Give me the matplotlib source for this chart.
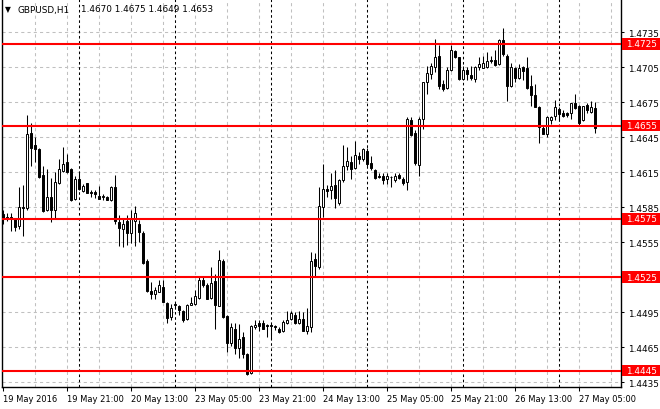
import matplotlib
matplotlib.use("Agg")
import matplotlib.pyplot as plt
from matplotlib.patches import Rectangle
import matplotlib.transforms as mtransforms

# hourly GBPUSD candles, 19 May 2016 05:00 .. 27 May 2016 09:00
opens = [1.4579, 1.4577, 1.4577, 1.4575, 1.4569, 1.4585, 1.4584, 1.4649, 1.4638, 1.4635,
         1.4613, 1.4583, 1.4594, 1.4583, 1.4606, 1.4616, 1.4624, 1.4618, 1.4592, 1.4609,
         1.4599, 1.4606, 1.4598, 1.4598, 1.4595, 1.4594, 1.4594, 1.4591, 1.4602, 1.4572,
         1.4566, 1.4573, 1.4563, 1.4573, 1.4571, 1.4563, 1.4539, 1.4513, 1.4511, 1.4512,
         1.4517, 1.4503, 1.4491, 1.4501, 1.4500, 1.4496, 1.4489, 1.4501, 1.4502, 1.4507,
         1.4523, 1.4518, 1.4507, 1.4522, 1.4500, 1.4539, 1.4492, 1.4469, 1.4481, 1.4464,
         1.4474, 1.4459, 1.4443, 1.4482, 1.4486, 1.4486, 1.4484, 1.4484, 1.4483, 1.4481,
         1.4479, 1.4486, 1.4489, 1.4493, 1.4486, 1.4489, 1.4479, 1.4482, 1.4541, 1.4534,
         1.4585, 1.4601, 1.4600, 1.4604, 1.4589, 1.4608, 1.4620, 1.4624, 1.4619, 1.4629,
         1.4626, 1.4633, 1.4623, 1.4617, 1.4612, 1.4612, 1.4609, 1.4611, 1.4608, 1.4613,
         1.4609, 1.4607, 1.4660, 1.4649, 1.4621, 1.4661, 1.4692, 1.4699, 1.4705, 1.4715,
         1.4691, 1.4687, 1.4703, 1.4719, 1.4714, 1.4695, 1.4703, 1.4698, 1.4695, 1.4705,
         1.4704, 1.4705, 1.4711, 1.4711, 1.4708, 1.4728, 1.4715, 1.4689, 1.4704, 1.4696,
         1.4705, 1.4704, 1.4689, 1.4681, 1.4671, 1.4653, 1.4648, 1.4660, 1.4663, 1.4669,
         1.4666, 1.4666, 1.4666, 1.4674, 1.4672, 1.4660, 1.4673, 1.4667, 1.4670]
highs = [1.4583, 1.4580, 1.4580, 1.4576, 1.4602, 1.4604, 1.4664, 1.4657, 1.4645, 1.4636,
         1.4620, 1.4618, 1.4610, 1.4615, 1.4626, 1.4637, 1.4631, 1.4619, 1.4612, 1.4614,
         1.4605, 1.4606, 1.4600, 1.4600, 1.4603, 1.4596, 1.4595, 1.4603, 1.4613, 1.4578,
         1.4576, 1.4578, 1.4583, 1.4586, 1.4574, 1.4565, 1.4541, 1.4521, 1.4517, 1.4523,
         1.4523, 1.4504, 1.4502, 1.4503, 1.4501, 1.4497, 1.4502, 1.4508, 1.4514, 1.4525,
         1.4525, 1.4520, 1.4534, 1.4528, 1.4548, 1.4541, 1.4493, 1.4486, 1.4486, 1.4485,
         1.4478, 1.4460, 1.4484, 1.4488, 1.4488, 1.4488, 1.4485, 1.4484, 1.4484, 1.4482,
         1.4488, 1.4496, 1.4496, 1.4495, 1.4496, 1.4495, 1.4499, 1.4547, 1.4546, 1.4602,
         1.4622, 1.4604, 1.4614, 1.4617, 1.4609, 1.4638, 1.4637, 1.4629, 1.4642, 1.4632,
         1.4636, 1.4636, 1.4629, 1.4618, 1.4614, 1.4614, 1.4614, 1.4612, 1.4614, 1.4614,
         1.4611, 1.4662, 1.4662, 1.4651, 1.4662, 1.4692, 1.4706, 1.4709, 1.4729, 1.4724,
         1.4694, 1.4705, 1.4724, 1.4720, 1.4714, 1.4706, 1.4705, 1.4706, 1.4706, 1.4714,
         1.4715, 1.4718, 1.4715, 1.4720, 1.4729, 1.4739, 1.4716, 1.4709, 1.4705, 1.4708,
         1.4706, 1.4714, 1.4698, 1.4691, 1.4672, 1.4655, 1.4663, 1.4663, 1.4677, 1.4671,
         1.4668, 1.4667, 1.4674, 1.4682, 1.4673, 1.4672, 1.4674, 1.4676, 1.4675]
lows = [1.4571, 1.4573, 1.4565, 1.4565, 1.4566, 1.4560, 1.4583, 1.4620, 1.4624, 1.4610,
        1.4581, 1.4582, 1.4572, 1.4575, 1.4605, 1.4615, 1.4614, 1.4590, 1.4591, 1.4600,
        1.4598, 1.4597, 1.4594, 1.4593, 1.4592, 1.4591, 1.4591, 1.4590, 1.4571, 1.4552,
        1.4551, 1.4553, 1.4554, 1.4552, 1.4555, 1.4536, 1.4512, 1.4506, 1.4506, 1.4512,
        1.4504, 1.4486, 1.4488, 1.4498, 1.4493, 1.4487, 1.4488, 1.4501, 1.4501, 1.4506,
        1.4517, 1.4506, 1.4506, 1.4481, 1.4500, 1.4490, 1.4461, 1.4466, 1.4459, 1.4456,
        1.4456, 1.4441, 1.4442, 1.4481, 1.4479, 1.4481, 1.4474, 1.4472, 1.4480, 1.4477,
        1.4478, 1.4485, 1.4488, 1.4485, 1.4485, 1.4479, 1.4476, 1.4478, 1.4526, 1.4532,
        1.4577, 1.4594, 1.4592, 1.4584, 1.4587, 1.4607, 1.4617, 1.4609, 1.4618, 1.4622,
        1.4625, 1.4620, 1.4617, 1.4609, 1.4610, 1.4605, 1.4605, 1.4602, 1.4607, 1.4609,
        1.4604, 1.4600, 1.4646, 1.4621, 1.4612, 1.4652, 1.4682, 1.4695, 1.4701, 1.4686,
        1.4685, 1.4686, 1.4702, 1.4713, 1.4694, 1.4694, 1.4694, 1.4694, 1.4692, 1.4703,
        1.4704, 1.4704, 1.4709, 1.4706, 1.4707, 1.4715, 1.4676, 1.4688, 1.4692, 1.4695,
        1.4694, 1.4686, 1.4672, 1.4671, 1.4640, 1.4648, 1.4645, 1.4656, 1.4660, 1.4660,
        1.4662, 1.4662, 1.4661, 1.4669, 1.4655, 1.4659, 1.4666, 1.4666, 1.4649]
closes = [1.4576, 1.4576, 1.4576, 1.4568, 1.4585, 1.4584, 1.4648, 1.4636, 1.4635, 1.4611,
          1.4582, 1.4594, 1.4583, 1.4607, 1.4618, 1.4622, 1.4615, 1.4591, 1.4609, 1.4601,
          1.4603, 1.4597, 1.4597, 1.4596, 1.4592, 1.4594, 1.4591, 1.4602, 1.4573, 1.4567,
          1.4571, 1.4563, 1.4576, 1.4580, 1.4564, 1.4537, 1.4513, 1.4511, 1.4514, 1.4518,
          1.4504, 1.4490, 1.4499, 1.4502, 1.4497, 1.4488, 1.4501, 1.4503, 1.4509, 1.4523,
          1.4518, 1.4506, 1.4520, 1.4501, 1.4540, 1.4491, 1.4469, 1.4482, 1.4464, 1.4472,
          1.4459, 1.4442, 1.4483, 1.4484, 1.4483, 1.4481, 1.4483, 1.4483, 1.4482, 1.4478,
          1.4487, 1.4488, 1.4494, 1.4486, 1.4489, 1.4479, 1.4483, 1.4539, 1.4535, 1.4586,
          1.4601, 1.4599, 1.4603, 1.4593, 1.4608, 1.4620, 1.4625, 1.4618, 1.4630, 1.4626,
          1.4635, 1.4622, 1.4619, 1.4610, 1.4611, 1.4608, 1.4612, 1.4611, 1.4612, 1.4610,
          1.4606, 1.4661, 1.4647, 1.4623, 1.4661, 1.4692, 1.4700, 1.4706, 1.4714, 1.4689,
          1.4686, 1.4703, 1.4720, 1.4714, 1.4695, 1.4703, 1.4699, 1.4696, 1.4705, 1.4708,
          1.4709, 1.4710, 1.4710, 1.4707, 1.4728, 1.4716, 1.4689, 1.4705, 1.4696, 1.4704,
          1.4702, 1.4687, 1.4681, 1.4671, 1.4654, 1.4648, 1.4662, 1.4662, 1.4671, 1.4665,
          1.4663, 1.4664, 1.4674, 1.4670, 1.4657, 1.4672, 1.4668, 1.4671, 1.4653]

time_labels = ['19 May 2016', '19 May 21:00', '20 May 13:00', '23 May 05:00', '23 May 21:00',
               '24 May 13:00', '25 May 05:00', '25 May 21:00', '26 May 13:00', '27 May 05:00']
label_bars = [0, 16, 32, 48, 64, 80, 96, 112, 128, 144]
grid_bars = [8, 16, 24, 32, 40, 48, 56, 64, 72, 80, 88, 96, 104, 112, 120, 128, 136, 144, 152]
day_bars = [19, 43, 67, 91, 115, 139]
price_ticks = [1.4435, 1.4465, 1.4495, 1.4525, 1.4555, 1.4585, 1.4615,
               1.4645, 1.4675, 1.4705, 1.4735]
levels = [1.4725, 1.4655, 1.4575, 1.4525, 1.4445]
title = 'GBPUSD,H1'
ohlc_text = '1.4670 1.4675 1.4649 1.4653'

FS = 6.4
plt.rcParams['font.family'] = ['DejaVu Sans']

fig = plt.figure(figsize=(6.6, 4.1), dpi=100)
ax = fig.add_axes([2 / 660, 22 / 410, 619 / 660, 388 / 410])
ax.set_xlim(-0.25, 154.5)
ax.set_ylim(1.44310, 1.47635)

# grid
for p in price_ticks:
    ax.axhline(p, color='#c0c0c0', lw=0.75, ls=(0, (3, 3)), zorder=0)
for b in grid_bars:
    ax.axvline(b, color='#c0c0c0', lw=0.75, ls=(0, (3, 3)), zorder=0)
for b in day_bars:
    ax.axvline(b, color='black', lw=0.75, ls=(0, (2.5, 2.5)), zorder=0.5)

# candles
xs = list(range(len(opens)))
ax.vlines(xs, lows, highs, color='black', lw=0.75, zorder=2)
bull = [c >= o for o, c in zip(opens, closes)]
bottoms = [min(o, c) for o, c in zip(opens, closes)]
heights = [max(abs(c - o), 0.00003) for o, c in zip(opens, closes)]
ax.bar(xs, heights, bottom=bottoms, width=0.62,
       color=['white' if b else 'black' for b in bull],
       edgecolor='black', linewidth=0.7, zorder=3)

# horizontal levels with labels on the price scale
trans = mtransforms.blended_transform_factory(ax.transAxes, ax.transData)
for lvl in levels:
    ax.axhline(lvl, color='#ff0000', lw=1.5, zorder=4)
    ax.add_patch(Rectangle((1.0015, lvl - 0.00050), 0.065, 0.00100, transform=trans,
                           facecolor='#ff0000', edgecolor='none', clip_on=False, zorder=6))
    ax.text(1.008, lvl, f'{lvl:.4f}', transform=trans, color='white', fontsize=FS,
            va='center', ha='left', clip_on=False, zorder=7)

# axes styling
ax.spines['top'].set_visible(False)
for s in ['left', 'right', 'bottom']:
    ax.spines[s].set_linewidth(1.0)
ax.yaxis.tick_right()
ax.set_yticks(price_ticks)
# the red level box covers the 1.4525 scale label
ax.set_yticklabels(['' if p in levels else f'{p:.4f}' for p in price_ticks])
ax.tick_params(axis='y', direction='out', length=2.5, width=0.75, pad=2.5, labelsize=FS)
ax.set_xticks(label_bars)
ax.set_xticklabels(time_labels, ha='left')
ax.tick_params(axis='x', direction='out', length=3, width=0.75, pad=1.8, labelsize=6.0)

# header text
fig.text(5 / 660, 1 - 10 / 410, '\u25bc', fontsize=5.5, va='center', ha='left')
fig.text(18 / 660, 1 - 10 / 410, title, fontsize=FS, va='center', ha='left')
fig.text(81 / 660, 1 - 10 / 410, ohlc_text, fontsize=FS, va='center', ha='left')

fig.savefig('out.png', dpi=100, facecolor='white')
